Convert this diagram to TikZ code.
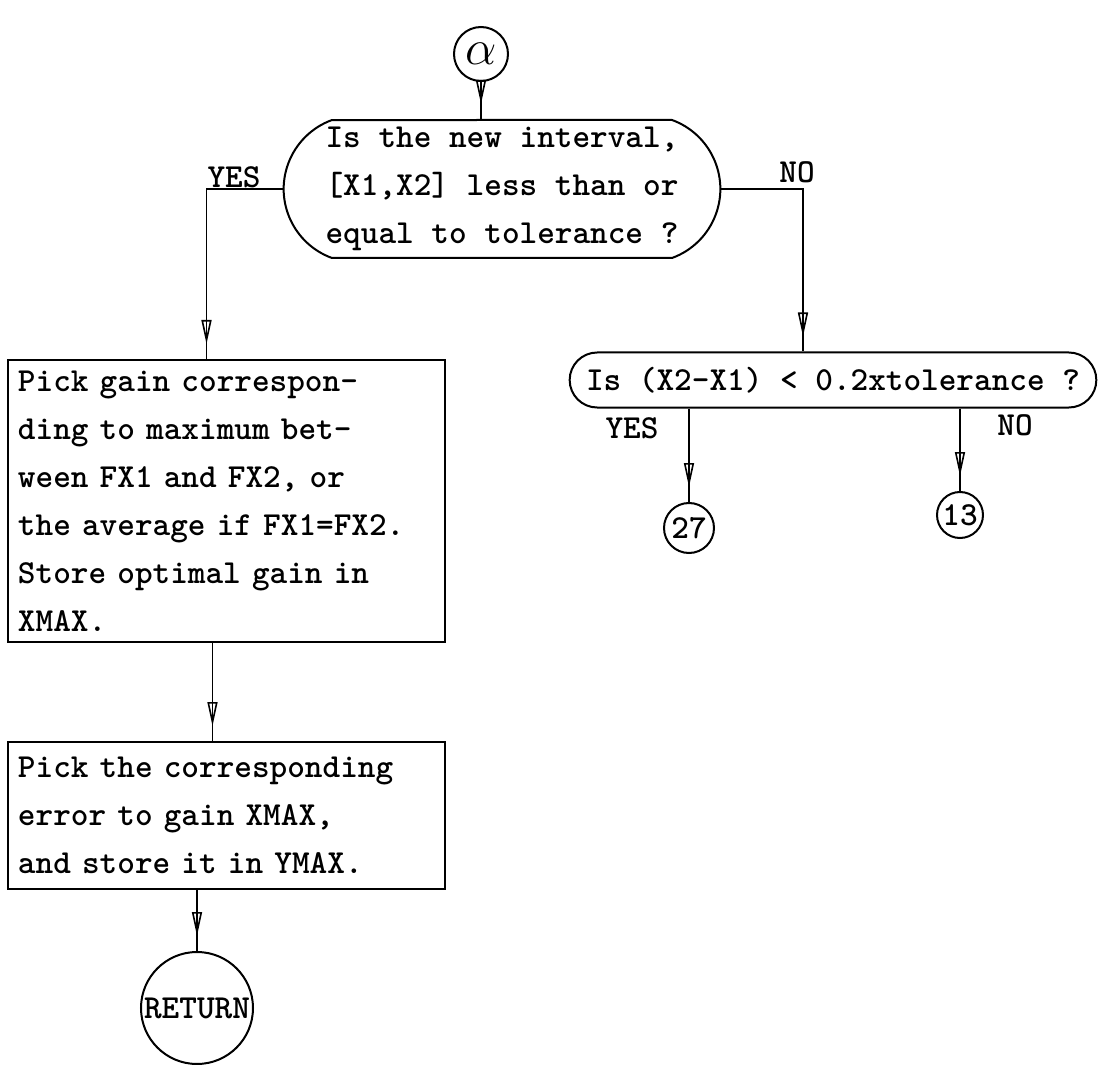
\documentclass[tikz,border=0pt]{standalone}
\usetikzlibrary{shapes.misc,arrows.meta,decorations.markings,positioning}
\newcommand{\flowfont}{\fontsize{16.8}{24}\selectfont\ttfamily\bfseries}

\begin{document}
\begin{tikzpicture}[
  x=0.5pt, y=-0.5pt,
  line width=0.8pt,
  every node/.style={font=\flowfont},
  procbox/.style={rectangle, draw, line width=1pt, minimum width=218.5pt,
    text width=208.5pt, inner xsep=5pt, align=left},
  decbox/.style={rounded rectangle, draw, line width=1pt, align=left},
  conn/.style={circle, draw, line width=1pt, inner sep=0pt},
  lbl/.style={inner sep=0pt},
  arrow/.style={postaction={decorate}, decoration={markings,
    mark=at position -7.5pt with {\arrow{Triangle[open,length=12pt,width=5pt]}}}}
]
  \useasboundingbox (0,0) rectangle (1105,1065);

  \node[decbox, rounded rectangle arc length=140, minimum width=225pt,
    minimum height=69pt] (dec1) at (502,189)
    {Is the new interval,\\ {[X1,X2]} less than or\\ equal to tolerance ?};
  \node[conn, minimum size=27pt, font=\fontsize{24.88}{26}\selectfont] (alpha) at (481,54) {$\alpha$};
  \node[procbox, minimum height=141pt] (pick) at (226.5,501)
    {Pick gain correspon-\\ ding to maximum bet-\\ ween FX1 and FX2, or\\
     the average if FX1=FX2.\\ Store optimal gain in\\ XMAX.};
  \node[procbox, minimum height=73.5pt, below=49pt of pick] (error)
    {Pick the corresponding\\ error to gain XMAX,\\ and store it in YMAX.};
  \node[conn, minimum size=56pt] (ret) at (197,1008) {RETURN};
  \node[decbox, minimum width=270pt, minimum height=27.5pt] (dec2) at (833,380)
    {Is (X2-X1) < 0.2xtolerance ?};
  \node[conn, minimum size=25pt] (c27) at (689,528) {27};
  \node[conn, minimum size=23pt] (c13) at (960,515) {13};

  % branch labels
  \node[lbl] (yes1) at (234,177) {YES};
  \node[lbl] (no1)  at (797,172) {NO};
  \node[lbl] (yes2) at (632,428) {YES};
  \node[lbl] (no2)  at (1015,425) {NO};

  \draw[arrow] (alpha) -- (alpha |- dec1.north);
  \draw[arrow] (dec1.west) -| ([xshift=-10pt]pick.north);
  \draw[arrow] (dec1.east) -| ([xshift=-15pt]dec2.north);
  \draw[arrow] ([xshift=-7pt]pick.south) -- ([xshift=-7pt]pick.south |- error.north);
  \draw[arrow] (ret |- error.south) -- (ret);
  \draw[arrow] (c27 |- dec2.south) -- (c27);
  \draw[arrow] (c13 |- dec2.south) -- (c13);
\end{tikzpicture}
\end{document}
